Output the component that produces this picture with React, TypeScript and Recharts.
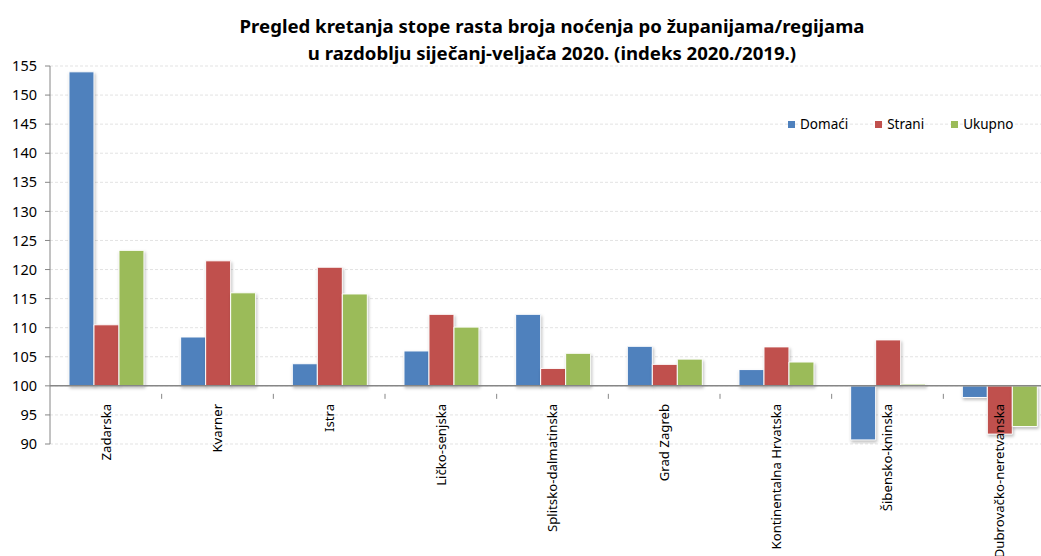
import React from "react";
import {
  BarChart,
  Bar,
  XAxis,
  YAxis,
  CartesianGrid,
  ReferenceLine,
} from "recharts";

const categories = [
  "Zadarska",
  "Kvarner",
  "Istra",
  "Ličko-senjska",
  "Splitsko-dalmatinska",
  "Grad Zagreb",
  "Kontinentalna Hrvatska",
  "Šibensko-kninska",
  "Dubrovačko-neretvanska",
];
const domaci = [154.0, 108.4, 103.8, 106.0, 112.3, 106.8, 102.8, 90.7, 98.0];
const strani = [110.5, 121.5, 120.4, 112.3, 103.0, 103.7, 106.7, 107.9, 91.7];
const ukupno = [123.3, 116.0, 115.8, 110.1, 105.6, 104.6, 104.1, 100.3, 93.0];
const yTicks = [90, 95, 100, 105, 110, 115, 120, 125, 130, 135, 140, 145, 150, 155];
const seriesNames = ["Domaći", "Strani", "Ukupno"];
const seriesColors = ["#4F81BD", "#C0504D", "#9BBB59"];

const BASE = 100;
const data = categories.map((c, i) => ({
  name: c,
  d: domaci[i] - BASE,
  s: strani[i] - BASE,
  u: ukupno[i] - BASE,
}));

const W = 1060;
const H = 556;
const M = { top: 66, right: 5, bottom: 0, left: 0 };
const YW = 50;
const XH = 112;
const plotH = H - M.top - M.bottom - XH;
const plotW = W - M.left - M.right - YW;
const YMIN = yTicks[0] - BASE;
const YMAX = yTicks[yTicks.length - 1] - BASE;
const zeroOffset = (plotH * (0 - YMIN)) / (YMAX - YMIN);
const band = plotW / categories.length;
const FONT = "'Noto Sans', 'DejaVu Sans', sans-serif";

const XTick = (props: any) => {
  const { x, y, payload } = props;
  const y0 = y - zeroOffset;
  return (
    <g>
      <line x1={x + band / 2} x2={x + band / 2} y1={y0} y2={y0 + 5} stroke="#868686" />
      <text
        x={x}
        y={y0 + 10}
        transform={`rotate(-90, ${x}, ${y0 + 10})`}
        textAnchor="end"
        dominantBaseline="central"
        fontSize={13.2}
        fontFamily={FONT}
        fill="#000"
      >
        {payload.value}
      </text>
    </g>
  );
};

const barKeys = ["d", "s", "u"];

export default function App() {
  return (
    <div
      style={{
        position: "fixed",
        left: 0,
        top: 0,
        width: 1041,
        height: 556,
        overflow: "hidden",
        background: "#fff",
      }}
    >
      <div
        style={{
          position: "absolute",
          left: 0,
          width: 1104,
          top: 12,
          textAlign: "center",
          fontFamily: FONT,
          fontWeight: 700,
          fontSize: 18.6,
          lineHeight: "27px",
          color: "#000",
        }}
      >
        Pregled kretanja stope rasta broja noćenja po županijama/regijama
        <br />u razdoblju siječanj-veljača 2020. (indeks 2020./2019.)
      </div>
      <div style={{ position: "absolute", left: 0, top: 0 }}>
        <BarChart
          width={W}
          height={H}
          data={data}
          margin={M}
          barCategoryGap="17%"
          barGap={0}
        >
          <CartesianGrid
            vertical={false}
            stroke="#e3e3e3"
            strokeDasharray="3 2"
          />
          <XAxis
            dataKey="name"
            height={XH}
            axisLine={false}
            tickLine={false}
            interval={0}
            tick={<XTick />}
          />
          <YAxis
            width={YW}
            domain={[YMIN, YMAX]}
            ticks={yTicks.map((t) => t - BASE)}
            tickFormatter={(v: number) => String(v + BASE)}
            interval={0}
            allowDataOverflow
            axisLine={{ stroke: "#868686" }}
            tickLine={{ stroke: "#868686" }}
            tickSize={5}
            tickMargin={8}
            tick={{ fontSize: 14.5, fill: "#000", fontFamily: FONT }}
          />
          {barKeys.map((k, i) => (
            <Bar
              key={k}
              dataKey={k}
              name={seriesNames[i]}
              fill={seriesColors[i]}
              stroke="#fff"
              strokeWidth={1}
              isAnimationActive={false}
              style={{ filter: "drop-shadow(1.5px 2px 1.5px rgba(0,0,0,0.25))" }}
            />
          ))}
          <ReferenceLine y={0} stroke="#868686" strokeWidth={1.5} />
        </BarChart>
      </div>
      <div
        style={{
          position: "absolute",
          left: 788,
          top: 114,
          display: "flex",
          alignItems: "center",
          fontFamily: FONT,
          fontSize: 13.5,
          color: "#000",
          lineHeight: "20px",
        }}
      >
        {seriesNames.map((n, i) => (
          <div
            key={n}
            style={{ display: "flex", alignItems: "center", marginRight: 27 }}
          >
            <span
              style={{
                display: "inline-block",
                width: 7,
                height: 7,
                background: seriesColors[i],
                marginRight: 5,
              }}
            />
            <span>{n}</span>
          </div>
        ))}
      </div>
    </div>
  );
}
